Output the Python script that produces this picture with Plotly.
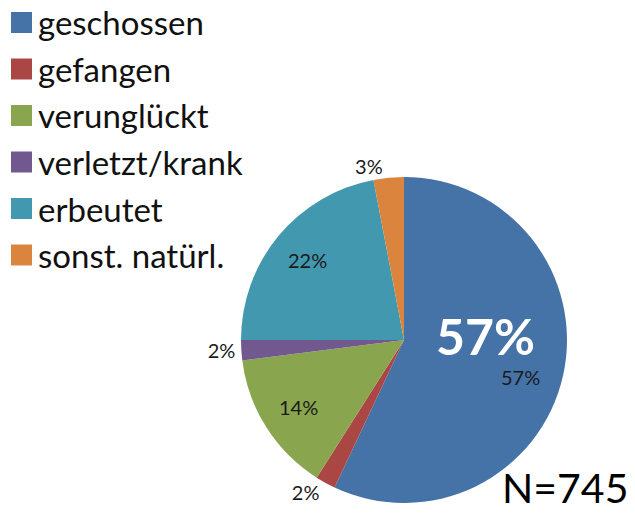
import math
import plotly.graph_objects as go

# ---- data ----
categories = ["geschossen", "gefangen", "verunglückt", "verletzt/krank", "erbeutet", "sonst. natürl."]
percent_values = [57, 2, 14, 2, 22, 3]
slice_colors = ["#4572A7", "#AA4643", "#89A54E", "#71588F", "#4198AF", "#DB843D"]
label_inside = [True, False, True, False, True, False]
sample_size = 745
highlight_label = "57%"

W, H = 635, 515
FONT = "Lato, 'Open Sans', sans-serif"
LABEL_FONT = dict(family=FONT, size=20, color="#1a1a1a")

# pie geometry (pixels)
CX, CY, R = 404, 340, 163
# small pixel nudges for inside labels (style only), keyed by slice index
label_nudge = {0: (-6, -10)}


def px_x(x):
    return x / W


def px_y(y):
    return 1 - y / H


total = sum(percent_values)
pct_text = ["%d%%" % round(100 * v / total) for v in percent_values]

fig = go.Figure()
fig.add_trace(go.Pie(
    labels=categories,
    values=percent_values,
    sort=False,
    direction="clockwise",
    rotation=0,
    marker=dict(colors=slice_colors, line=dict(width=0)),
    text=pct_text,
    texttemplate=["" if ins else "%{text}" for ins in label_inside],
    textposition=["none" if ins else "outside" for ins in label_inside],
    textfont=LABEL_FONT,
    showlegend=False,
    hoverinfo="label+percent",
    domain=dict(x=[px_x(CX - R), px_x(CX + R)], y=[px_y(CY + R), px_y(CY - R)]),
))

shapes = []
annotations = []

# inside labels placed along each slice's mid-angle
cum = 0
for i, (v, t, ins) in enumerate(zip(percent_values, pct_text, label_inside)):
    mid = (cum + v / 2) / total * 2 * math.pi
    cum += v
    if not ins:
        continue
    k = 0.77 * R
    dx, dy = label_nudge.get(i, (0, 0))
    annotations.append(dict(text=t, xref="paper", yref="paper",
                            x=px_x(CX + k * math.sin(mid)), y=px_y(CY - k * math.cos(mid)),
                            xshift=dx, yshift=dy,
                            xanchor="center", yanchor="middle", showarrow=False,
                            font=LABEL_FONT))

# legend
row_y0 = 22.5
row_step = 46.5
for i, (cat, col) in enumerate(zip(categories, slice_colors)):
    cy = row_y0 + i * row_step
    shapes.append(dict(type="rect", xref="paper", yref="paper",
                       x0=px_x(11), x1=px_x(32), y0=px_y(cy + 10.5), y1=px_y(cy - 10.5),
                       fillcolor=col, line=dict(width=0)))
    annotations.append(dict(text=cat, xref="paper", yref="paper",
                            x=px_x(36), y=px_y(cy), xanchor="left", yanchor="middle",
                            showarrow=False, font=dict(family=FONT, size=33, color="#111111")))

annotations.append(dict(text="<b>%s</b>" % highlight_label, xref="paper", yref="paper",
                        x=px_x(485), y=px_y(336), xanchor="center", yanchor="middle",
                        showarrow=False, font=dict(family=FONT, size=50, color="white")))
annotations.append(dict(text="N=%d" % sample_size, xref="paper", yref="paper",
                        x=px_x(630), y=px_y(514), xanchor="right", yanchor="bottom",
                        showarrow=False, font=dict(family=FONT, size=41, color="#000000")))

fig.update_layout(
    width=W, height=H,
    margin=dict(l=0, r=0, t=0, b=0),
    paper_bgcolor="white",
    plot_bgcolor="white",
    shapes=shapes,
    annotations=annotations,
)

fig.write_html("out.html", config={"displayModeBar": False},
               post_script="document.body.style.margin='0';")
